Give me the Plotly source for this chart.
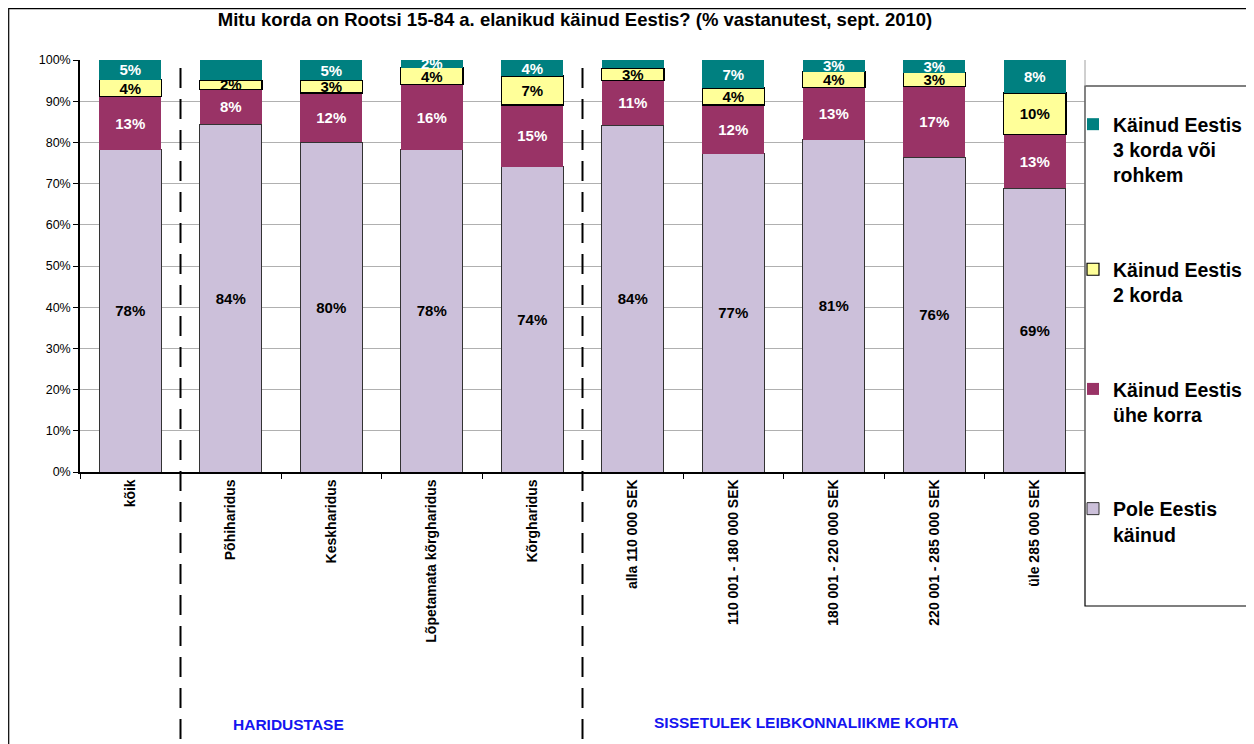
import plotly.graph_objects as go

categories = ["kõik", "Põhiharidus", "Keskharidus", "Lõpetamata kõrgharidus", "Kõrgharidus",
              "alla 110 000 SEK", "110 001 - 180 000 SEK", "180 001 - 220 000 SEK",
              "220 001 - 285 000 SEK", "üle 285 000 SEK"]

pole = [78.2, 84.4, 80.0, 78.2, 74.1, 84.2, 77.2, 80.6, 76.4, 68.9]
uhe = [12.9, 8.4, 12.0, 15.8, 15.0, 10.9, 11.9, 12.7, 17.2, 13.1]
kaks = [4.1, 2.3, 3.1, 4.1, 7.0, 2.9, 4.1, 3.9, 3.3, 10.0]
kolm = [4.8, 4.9, 4.9, 1.9, 3.9, 2.0, 6.8, 2.8, 3.1, 8.0]

series = [
    ("Pole Eestis<br>käinud", pole, "#CCC0DA", "#333333", 1, "black", 4),
    ("Käinud Eestis<br>ühe korra", uhe, "#993366", "#993366", 0, "white", 3),
    ("Käinud Eestis<br>2 korda", kaks, "#FFFF99", "black", 1.2, "black", 2),
    ("Käinud Eestis<br>3 korda või<br>rohkem", kolm, "#008080", "#008080", 0, "white", 1),
]

font = "Liberation Sans, Arial, sans-serif"

fig = go.Figure()
for i, (name, vals, color, lcolor, lw, tcolor, rank) in enumerate(series):
    labels = [f"{round(v)}%" for v in vals]
    if i == 3:
        labels[5] = ""  # label not visible in the original
    fig.add_trace(go.Bar(
        x=categories, y=vals, name=name, legendgroup=f"g{rank}", legendrank=rank,
        marker=dict(color=color, line=dict(color=lcolor, width=lw)),
        text=labels, textposition="inside", insidetextanchor="middle", textangle=0,
        textfont=dict(family=font, size=15, color=tcolor, weight="bold"),
        constraintext="none", cliponaxis=False,
    ))

# page body has an 8px margin, so screen coords = figure coords + 8
OFF = 8
W, H = 1254, 744
L, T = 80 - OFF, 60 - OFF
pw, ph = 1005, 412
R, B = W - L - pw, H - T - ph

def px(xs):
    return (xs - OFF - L) / pw

def py(ys):
    return (T + ph - (ys - OFF)) / ph

shapes = [
    # outer frame
    dict(type="rect", xref="paper", yref="paper", x0=px(8.7), x1=px(1275), y0=py(770), y1=py(8.7),
         line=dict(color="black", width=1.2), layer="below"),
    # legend frame
    dict(type="rect", xref="paper", yref="paper", x0=px(1085), x1=px(1275), y0=py(606), y1=py(86),
         line=dict(color="black", width=1.2), fillcolor="white", layer="above"),
    # plot area right border
    dict(type="line", xref="paper", yref="paper", x0=1, x1=1, y0=0, y1=1,
         line=dict(color="#A0A0A0", width=1)),
]
for xv in [0.5, 4.5]:
    shapes.append(dict(type="line", xref="x", yref="paper", x0=xv, x1=xv, y0=py(770), y1=py(62),
                       line=dict(color="black", width=2, dash="20px,11px")))

fig.update_layout(
    width=W, height=H,
    margin=dict(l=L, r=R, t=T, b=B, autoexpand=False),
    paper_bgcolor="white", plot_bgcolor="white",
    barmode="stack", bargap=0.38,
    font=dict(family=font, color="black"),
    title=dict(text="Mitu korda on Rootsi 15-84 a. elanikud käinud Eestis? (% vastanutest, sept. 2010)",
               x=px(575), xref="paper", xanchor="center", y=1 - (20 - OFF) / H, yanchor="middle",
               font=dict(size=18.5, weight="bold")),
    uniformtext=dict(minsize=14, mode="show"),
    shapes=shapes,
    legend=dict(x=px(1073), xanchor="left", y=py(105), yanchor="top", maxheight=700,
                traceorder="grouped", tracegroupgap=66, valign="top",
                bgcolor="rgba(0,0,0,0)", borderwidth=0,
                font=dict(size=19.5, weight="bold")),
    annotations=[
        dict(text="HARIDUSTASE", xref="paper", yref="paper", x=px(288), y=py(724),
             xanchor="center", yanchor="middle",
             showarrow=False, font=dict(size=15.5, color="#1515F0", weight="bold")),
        dict(text="SISSETULEK LEIBKONNALIIKME KOHTA", xref="paper", yref="paper", x=px(806), y=py(722),
             xanchor="center", yanchor="middle",
             showarrow=False, font=dict(size=15.5, color="#1515F0", weight="bold")),
    ],
)

fig.update_yaxes(range=[0, 100], dtick=10, ticksuffix="%", showgrid=True, gridcolor="#B0B0B0",
                 gridwidth=1, showline=True, linecolor="black", linewidth=1.5, ticks="outside",
                 ticklen=5, tickcolor="black", tickfont=dict(size=12.5), zeroline=False)
fig.update_xaxes(type="category", tickangle=-90, showline=True, linecolor="black", linewidth=1.5,
                 ticks="outside", tickson="boundaries", ticklen=5, tickcolor="black",
                 tickfont=dict(size=14, weight="bold"))

fig.write_html("out.html")
